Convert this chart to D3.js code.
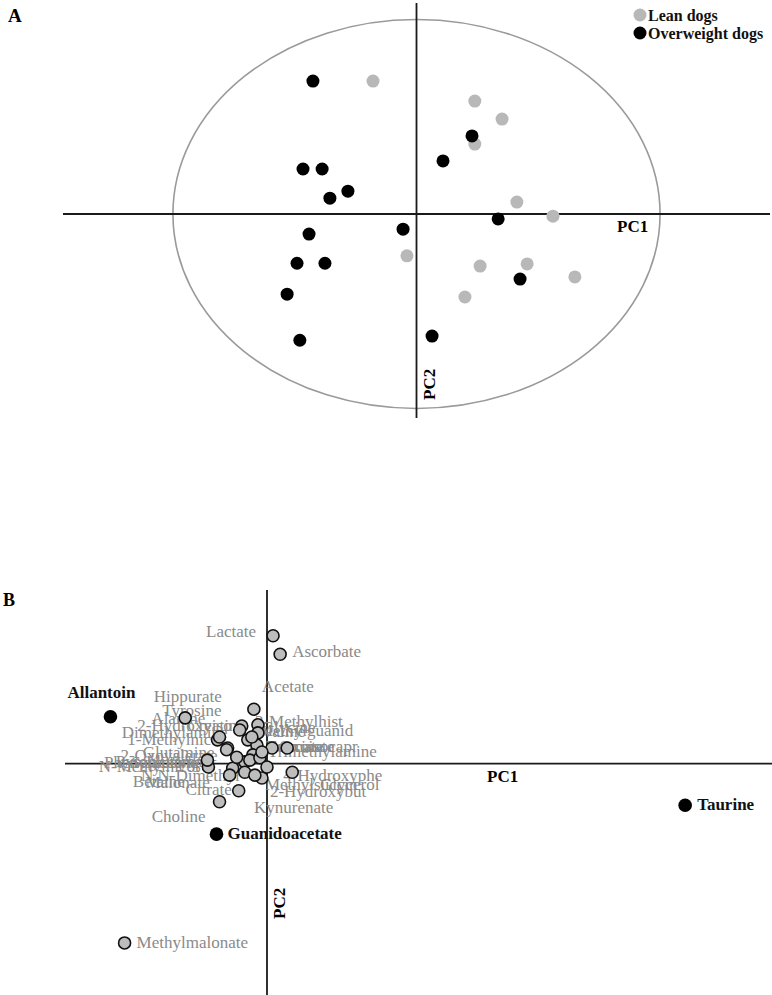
<!DOCTYPE html>
<html lang="en">
<head>
<meta charset="UTF-8">
<title>PCA scores and loadings</title>
<script src="https://d3js.org/d3.v7.min.js"></script>
<style>
  body { margin: 0; background: #fff; }
  svg { display: block; font-family: "Liberation Serif", "Times New Roman", serif; }
</style>
</head>
<body>
<svg id="chart"></svg>
<script>
// ---- panel A: scores ----
const leanPC1 = [-1.23, 1.65, 2.42, 1.65, 2.84, 3.86, -0.27, 1.80, 3.13, 4.48, 1.37];
const leanPC2 = [3.78, 3.21, 2.70, 1.99, 0.34, -0.06, -1.19, -1.48, -1.42, -1.79, -2.36];
const overPC1 = [-2.93, -3.21, -2.67, -1.94, -2.45, -3.04, -0.38, -3.38, -2.59, -3.66, -3.30, 0.44, 0.75, 1.57, 2.31, 2.93];
const overPC2 = [3.78, 1.28, 1.28, 0.65, 0.45, -0.57, -0.43, -1.40, -1.40, -2.28, -3.59, -3.47, 1.51, 2.22, -0.14, -1.85];
const ellipseRadii = [6.89, 5.53]; // 95% confidence ellipse, PC1 / PC2 units
const groupNames = ["Lean dogs", "Overweight dogs"];

// ---- panel B: loadings (x100) ----
const keyNames = ["Allantoin", "Taurine", "Guanidoacetate"];
const keyPC1 = [-15.5, 41.4, -5.0];
const keyPC2 = [8.1, -7.2, -12.2];

const metabNames = ["Lactate", "Ascorbate", "Acetate", "Hippurate", "Tyrosine", "Alanine",
  "2-Hydroxyiso", "Creatine", "Dimethylamine", "1-Methylnicot", "3-Methylhist", "Glycine",
  "Methylguanid", "2-Oxoisocapr", "Succinate", "Trimethylamine", "2-Oxovalerate", "Phenylacetylg",
  "N-Methylnicot", "Pyroglutamate", "N,N-Dimethyl", "Betaine", "Malonate", "Citrate", "Choline",
  "Kynurenate", "4-Hydroxyphe", "Methylsuccin", "Glycerol", "2-Hydroxybut", "Glutamine",
  "Valine", "Formate", "Methylmalonate", "Sarcosine"];
const metabPC1 = [0.6, 1.3, -1.3, -2.5, -4.9, -8.1, -2.7, -0.9, -3.9, -4.7, -0.9, -1.9,
  -1.0, 0.5, 2.0, -1.4, -3.4, -5.8, -2.2, -1.7, -3.7, -2.2, -3.0, -2.8, -4.7,
  -0.5, 2.5, -0.7, 0.0, -1.2, -4.0, -1.5, -0.5, -14.1, -5.9];
const metabPC2 = [22.1, 18.9, 9.4, 6.5, 4.1, 7.9, 5.8, 6.7, 2.7, 4.6, 5.3, 4.1,
  3.2, 2.7, 2.7, 1.5, -0.8, -0.6, 0.3, 0.6, -2.0, -1.5, 1.1, -4.7, -6.6,
  -2.5, -1.5, 1.0, -0.6, -2.0, 2.4, 4.6, 2.0, -31.0, 0.6];

// label placement (layout only): [anchor, dx, dy] in pixels from the point
const labelLayout = [["end", -17, 1], ["start", 12, 3], ["start", 8, -17], ["end", -20, -24],
  ["end", 4, -24], ["end", 20, 6], ["end", -8, 1], ["end", -13, 6], ["end", 0, -10],
  ["end", 5, 8], ["start", -3, -6], ["start", 14, -7], ["start", 1, -9], ["start", -7, 4],
  ["start", -19, 4], ["start", 15, 2], ["end", -15, -7], ["end", -8, 1], ["end", -45, 10],
  ["end", -35, 7], ["end", 10, 6], ["end", -60, 15], ["end", -27, 31], ["end", -7, 4],
  ["end", -14, 20], ["start", -8, 35], ["start", -9, 9], ["start", 5, 32], ["start", 53, 23],
  ["start", 15, 22], ["end", -12, 8], ["start", 10, 0], ["start", 5, 0], ["start", 12, 5],
  ["end", -10, 8]];
const keyLayout = [["start", -43, -19], ["start", 12, 5], ["start", 11, 5]];

const width = 772, height = 995;
const svg = d3.select("#chart").attr("width", width).attr("height", height);

// ================= Panel A =================
const xA = d3.scaleLinear().domain([-10, 10]).range([63, 770]);
const yA = d3.scaleLinear().domain([6, -5.8]).range([3, 418]);

const gA = svg.append("g");

gA.append("ellipse")
  .attr("cx", xA(0)).attr("cy", yA(0))
  .attr("rx", xA(ellipseRadii[0]) - xA(0))
  .attr("ry", yA(0) - yA(ellipseRadii[1]))
  .attr("fill", "none").attr("stroke", "#9a9a9a").attr("stroke-width", 1.6);

gA.append("line").attr("x1", xA.range()[0]).attr("x2", xA.range()[1])
  .attr("y1", yA(0)).attr("y2", yA(0)).attr("stroke", "#1a1a1a").attr("stroke-width", 1.8);
gA.append("line").attr("x1", xA(0)).attr("x2", xA(0))
  .attr("y1", yA.range()[0]).attr("y2", yA.range()[1]).attr("stroke", "#1a1a1a").attr("stroke-width", 1.8);

const lean = leanPC1.map((v, i) => ({ x: v, y: leanPC2[i] }));
const over = overPC1.map((v, i) => ({ x: v, y: overPC2[i] }));

gA.selectAll(".lean").data(lean).join("circle").attr("class", "lean")
  .attr("cx", d => xA(d.x)).attr("cy", d => yA(d.y)).attr("r", 6.5).attr("fill", "#b8b8b8");
gA.selectAll(".over").data(over).join("circle").attr("class", "over")
  .attr("cx", d => xA(d.x)).attr("cy", d => yA(d.y)).attr("r", 6.5).attr("fill", "#000");

gA.append("text").attr("x", 8).attr("y", 22).attr("font-size", 19).attr("font-weight", "bold").text("A");
gA.append("text").attr("x", 617).attr("y", yA(0) + 18).attr("font-size", 17)
  .attr("font-weight", "bold").text("PC1");
gA.append("text").attr("transform", `translate(${xA(0) + 18},${400}) rotate(-90)`)
  .attr("font-size", 17).attr("font-weight", "bold").text("PC2");

// legend
const legend = gA.append("g").attr("transform", "translate(640,15)");
groupNames.forEach((name, i) => {
  legend.append("circle").attr("cx", 0).attr("cy", i * 18).attr("r", 6.5)
    .attr("fill", i === 0 ? "#b8b8b8" : "#000");
  legend.append("text").attr("x", 8).attr("y", i * 18 + 5.5).attr("font-size", 16)
    .attr("font-weight", "bold").attr("fill", "#111").text(name);
});

// ================= Panel B =================
const xB = d3.scaleLinear().domain([-20, 50]).range([65, 772]);
const yB = d3.scaleLinear().domain([30, -40]).range([590, 995]);

const gB = svg.append("g");

gB.append("line").attr("x1", xB.range()[0]).attr("x2", xB.range()[1])
  .attr("y1", yB(0)).attr("y2", yB(0)).attr("stroke", "#1a1a1a").attr("stroke-width", 1.8);
gB.append("line").attr("x1", xB(0)).attr("x2", xB(0))
  .attr("y1", yB.range()[0]).attr("y2", yB.range()[1]).attr("stroke", "#1a1a1a").attr("stroke-width", 1.8);

gB.append("text").attr("x", 3).attr("y", 606).attr("font-size", 18).attr("font-weight", "bold").text("B");
gB.append("text").attr("x", 487).attr("y", yB(0) + 18).attr("font-size", 17)
  .attr("font-weight", "bold").text("PC1");
gB.append("text").attr("transform", `translate(${xB(0) + 18},${919}) rotate(-90)`)
  .attr("font-size", 17).attr("font-weight", "bold").text("PC2");

const metabs = metabNames.map((n, i) => ({ name: n, x: metabPC1[i], y: metabPC2[i], lay: labelLayout[i] }));
const keys = keyNames.map((n, i) => ({ name: n, x: keyPC1[i], y: keyPC2[i], lay: keyLayout[i] }));

gB.selectAll(".mlabel").data(metabs).join("text").attr("class", "mlabel")
  .attr("x", d => xB(d.x) + d.lay[1]).attr("y", d => yB(d.y) + d.lay[2])
  .attr("text-anchor", d => d.lay[0]).attr("font-size", 17).attr("fill", "#8a8a8a")
  .text(d => d.name);

gB.selectAll(".mpt").data(metabs).join("circle").attr("class", "mpt")
  .attr("cx", d => xB(d.x)).attr("cy", d => yB(d.y)).attr("r", 6)
  .attr("fill", "#bdbdbd").attr("stroke", "#111").attr("stroke-width", 1.6);

gB.selectAll(".kpt").data(keys).join("circle").attr("class", "kpt")
  .attr("cx", d => xB(d.x)).attr("cy", d => yB(d.y)).attr("r", 6.8).attr("fill", "#000");

gB.selectAll(".klabel").data(keys).join("text").attr("class", "klabel")
  .attr("x", d => xB(d.x) + d.lay[1]).attr("y", d => yB(d.y) + d.lay[2])
  .attr("text-anchor", d => d.lay[0]).attr("font-size", 17).attr("font-weight", "bold")
  .attr("fill", "#111").text(d => d.name);
</script>
</body>
</html>
